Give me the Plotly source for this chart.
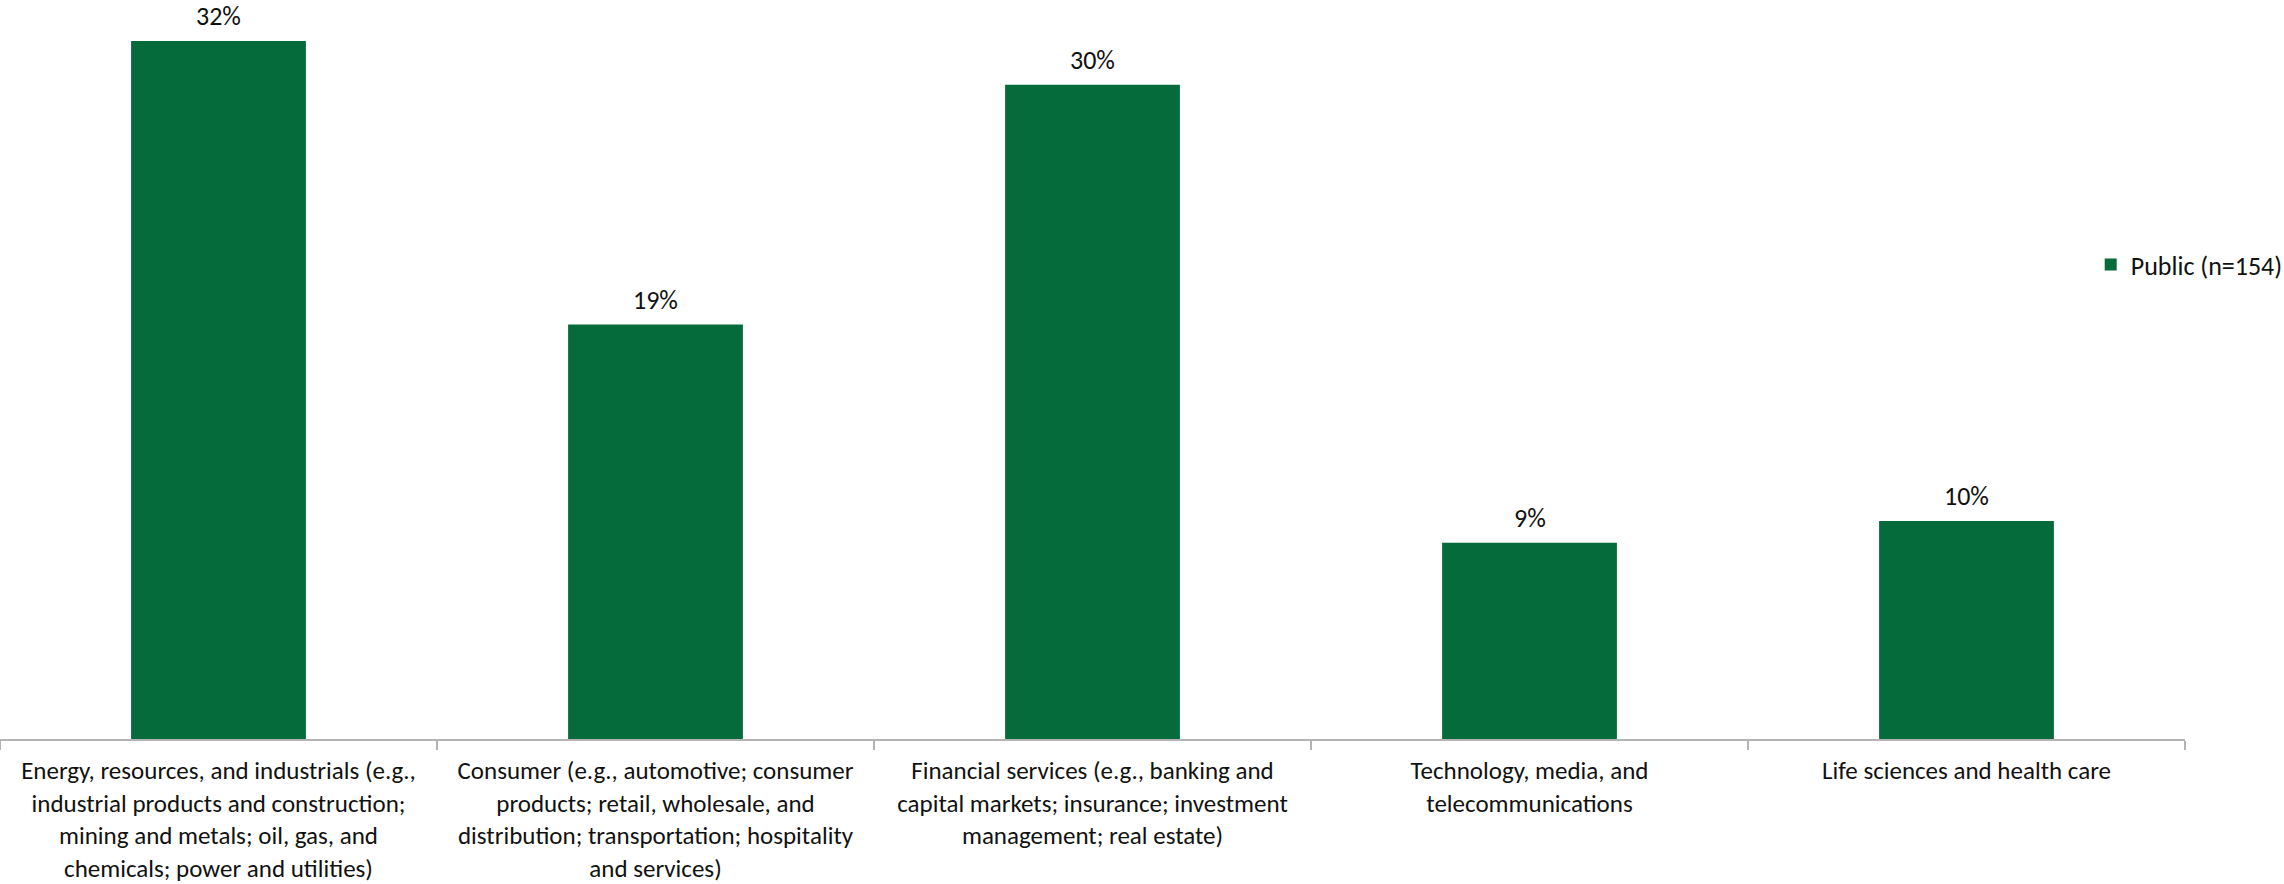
import plotly.graph_objects as go

# Industry breakdown of public companies
categories = [
    "Energy, resources, and industrials (e.g.,<br>industrial products and construction;<br>mining and metals; oil, gas, and<br>chemicals; power and utilities)",
    "Consumer (e.g., automotive; consumer<br>products; retail, wholesale, and<br>distribution; transportation; hospitality<br>and services)",
    "Financial services (e.g., banking and<br>capital markets; insurance; investment<br>management; real estate)",
    "Technology, media, and<br>telecommunications",
    "Life sciences and health care",
]
public_pct = [32, 19, 30, 9, 10]
series_name = "Public (n=154)"

FONT = "Calibri, Carlito, Lato, sans-serif"
GREEN = "#066b3a"
AXIS_GRAY = "#b4b4b4"
TEXT = "#111111"

fig = go.Figure()
fig.add_trace(go.Bar(
    x=categories,
    y=public_pct,
    name=series_name,
    marker=dict(color=GREEN, line=dict(width=0)),
    width=0.4,
    showlegend=True,
    hoverinfo="skip",
))

# value labels above each bar
for cat, val in zip(categories, public_pct):
    fig.add_annotation(
        x=cat, y=val, xref="x", yref="y",
        text=f"{val}%", showarrow=False,
        yanchor="bottom", yshift=7,
        font=dict(family=FONT, size=26, color=TEXT),
    )

fig.update_layout(
    width=2284, height=884,
    margin=dict(l=0, r=99, t=0, b=145, autoexpand=False),
    paper_bgcolor="white", plot_bgcolor="white",
    font=dict(family=FONT, size=26, color=TEXT),
    bargap=0.6,
    legend=dict(
        x=1.047, y=0.642, xanchor="right", yanchor="middle",
        font=dict(family=FONT, size=26, color=TEXT),
        bgcolor="rgba(0,0,0,0)", itemwidth=30,
    ),
    xaxis=dict(
        type="category",
        showline=True, linecolor=AXIS_GRAY, linewidth=2,
        ticks="outside", tickson="boundaries", ticklen=9,
        tickcolor=AXIS_GRAY, tickwidth=1.5,
        showgrid=False, zeroline=False,
        tickfont=dict(family=FONT, size=25, color=TEXT),
        ticklabelstandoff=8,
        tickangle=0, automargin=False,
    ),
    yaxis=dict(
        range=[0, 33.88], visible=False, showgrid=False, zeroline=False,
    ),
)

fig.write_html("out.html")
